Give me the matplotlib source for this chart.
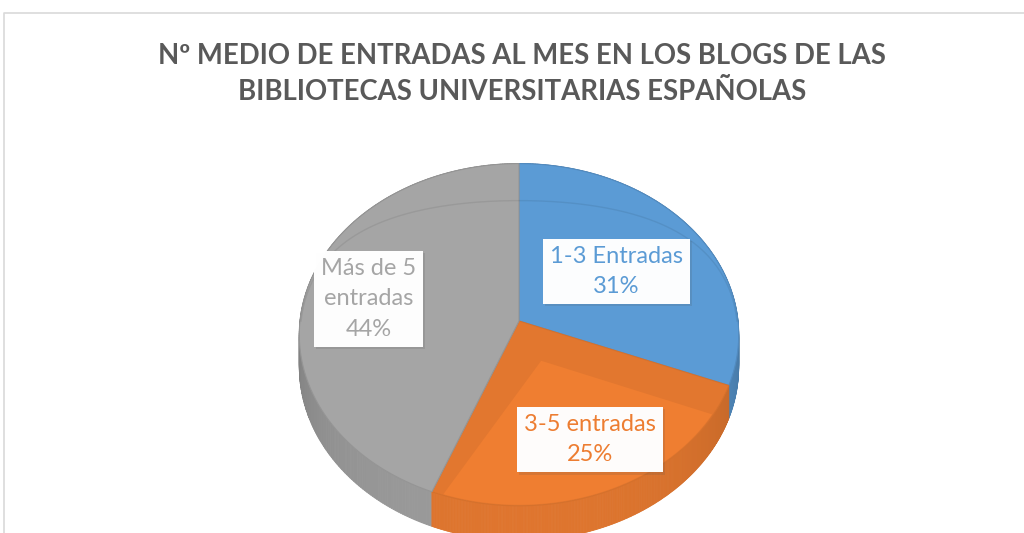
import numpy as np
import matplotlib.pyplot as plt
import matplotlib.colors as mcolors
import matplotlib.patheffects as pe
from matplotlib.patches import Polygon
from matplotlib.collections import PolyCollection

# datos
categorias = ['1-3 Entradas', '3-5 entradas', 'Más de 5\nentradas']
porcentajes = [31, 25, 44]
colores = ['#5B9BD5', '#ED7D31', '#A5A5A5']
titulo = 'Nº MEDIO DE ENTRADAS AL MES EN LOS BLOGS DE LAS\nBIBLIOTECAS UNIVERSITARIAS ESPAÑOLAS'

plt.rcParams['font.family'] = ['Lato', 'DejaVu Sans']

fig = plt.figure(figsize=(10.24, 5.33), dpi=100)
ax = fig.add_axes([0, 0, 1, 1])
ax.set_xlim(0, 1024)
ax.set_ylim(533, 0)
ax.axis('off')

# marco del grafico
ax.plot([4, 4, 1024], [533, 13, 13], color='#d9d9d9', lw=1.2)

ax.text(522, 74, titulo, ha='center', va='center', fontsize=19.8, fontweight='bold',
        color='#595959', linespacing=1.5)

# geometria del pastel 3D (pixeles, con algo de perspectiva)
cx, cy = 519, 321
A, B, p, T = 219, 170, 0.08, 32


def proj(t, r=1.0, z=0.0):
    X = r * np.sin(t)
    Y = -r * np.cos(t)
    s = 1.0 / (1.0 - p * Y)
    return cx + A * X * s, cy + B * Y * s + T * z * s


def tono(c, f):
    r, g, b = mcolors.to_rgb(c)
    return tuple(min(1, v * f) for v in (r, g, b))


fracs = np.array(porcentajes) / sum(porcentajes)
bordes = np.concatenate([[0], np.cumsum(fracs)]) * 2 * np.pi

# paredes laterales (de atras hacia delante)
quads, qcols, prof = [], [], []
for i in range(len(fracs)):
    ts = np.linspace(bordes[i], bordes[i + 1], 240)
    for t0, t1 in zip(ts[:-1], ts[1:]):
        tm = 0.5 * (t0 + t1)
        quads.append([proj(t0), proj(t1), proj(t1, z=1), proj(t0, z=1)])
        f = 0.72 + 0.22 * max(-np.cos(tm), 0) ** 0.6
        qcols.append(tono(colores[i], f))
        prof.append(-np.cos(tm))
orden = np.argsort(prof)
quads = [quads[k] for k in orden]
qcols = [qcols[k] for k in orden]
ax.add_collection(PolyCollection(quads, facecolors=qcols, edgecolors=qcols, linewidths=0.6))

# caras superiores
for i in range(len(fracs)):
    a0, a1 = bordes[i], bordes[i + 1]
    ts = np.linspace(a0, a1, 240)
    pts = [proj(0, 0)] + [proj(t) for t in ts]
    base = tono(colores[i], 0.955) if i == 1 else colores[i]
    ax.add_patch(Polygon(pts, closed=True, facecolor=base,
                         edgecolor=tono(colores[i], 0.9), lw=0.8))
    if i == 1:
        # zona clara del bisel en la porcion naranja
        tm = 0.5 * (a0 + a1)
        ts2 = np.linspace(a0 + 0.18, a1 - 0.05, 240)
        pin = [proj(tm, 0.25)] + [proj(t, 0.995) for t in ts2]
        ax.add_patch(Polygon(pin, closed=True, facecolor=tono(colores[i], 1.01), edgecolor='none'))

# linea tenue del bisel en la parte de atras
tb = np.linspace(-np.pi / 2, np.pi / 2, 200)
bx = [proj(t)[0] * 0.995 + cx * 0.005 for t in tb]
by = [proj(t)[1] + 37 * np.cos(t) ** 2 for t in tb]
ax.plot(bx, by, color='black', alpha=0.07, lw=1)

# etiquetas
radios = [0.53, 0.8, 0.69]
for i in range(len(fracs)):
    tm = 0.5 * (bordes[i] + bordes[i + 1])
    x = cx + radios[i] * 222 * np.sin(tm)
    y = cy - 1 - radios[i] * 163 * np.cos(tm)
    txt = f'{categorias[i]}\n{porcentajes[i]}%'
    t = ax.text(x, y, txt, ha='center', va='center', fontsize=17, color=colores[i],
                linespacing=1.55,
                bbox=dict(boxstyle='square,pad=0.3', facecolor='white', edgecolor='none', alpha=0.88))
    t.get_bbox_patch().set_path_effects([pe.withSimplePatchShadow(offset=(1.5, -1.5), alpha=0.15),
                                         pe.Normal()])

fig.savefig('out.png', dpi=100)
